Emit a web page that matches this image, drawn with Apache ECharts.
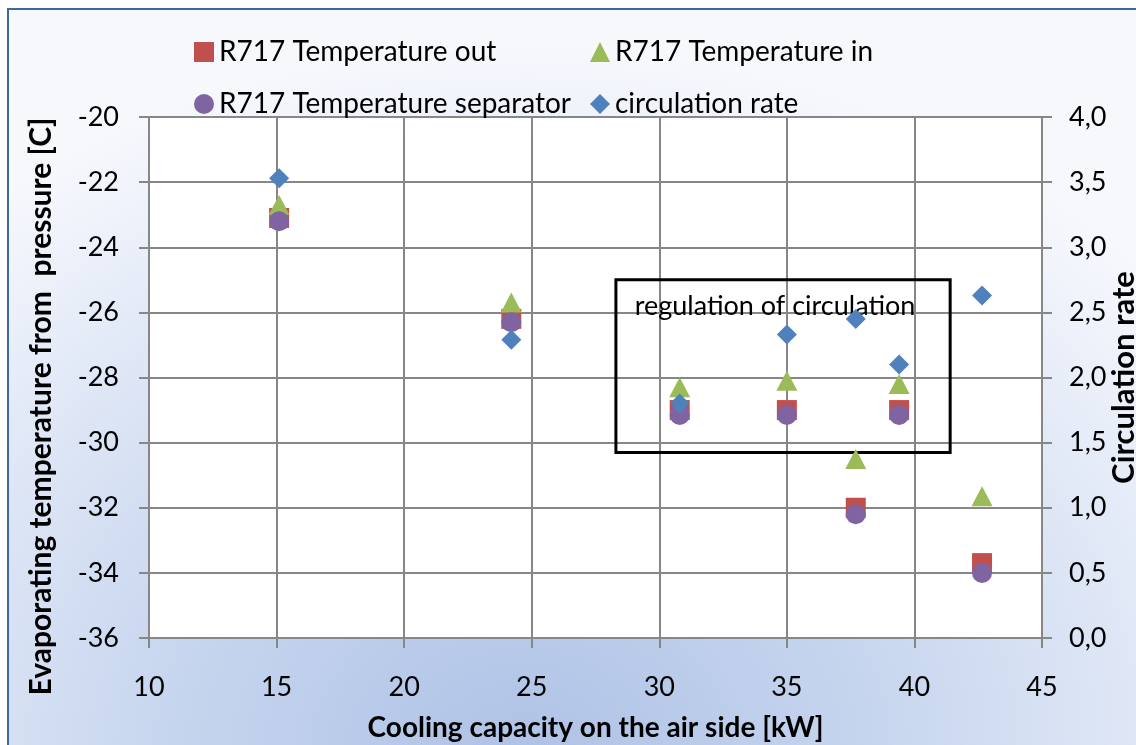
<!DOCTYPE html>
<html>
<head>
<meta charset="utf-8">
<script src="https://cdn.jsdelivr.net/npm/echarts@6/dist/echarts.min.js"></script>
<style>
  html, body { margin: 0; padding: 0; background: #ffffff; }
  #frame {
    position: absolute; left: 7px; top: 8px; width: 1140px; height: 750px;
    border-left: 2px solid #3f68a0; border-top: 2px solid #3f68a0;
    background: radial-gradient(ellipse 75% 95% at 45% 100%, #aec2e6 0%, #c9d7ef 45%, #e6ecf8 80%, #f6f8fc 100%);
  }
  #chart { position: absolute; left: 0; top: 0; width: 1136px; height: 745px; }
</style>
</head>
<body>
<div id="frame"></div>
<div id="chart"></div>
<script>
// cooling capacity on the air side [kW]
const capacity = [15.1, 24.2, 30.8, 35.0, 37.7, 39.4, 42.65]
// evaporating temperatures [C]
const tempOut = [-23.1, -26.2, -29.0, -29.0, -32.0, -29.0, -33.7]
const tempIn = [-22.7, -25.7, -28.3, -28.1, -30.5, -28.2, -31.65]
const tempSeparator = [-23.2, -26.3, -29.15, -29.15, -32.2, -29.15, -34.0]
// circulation rate (right axis)
const circulation = [3.53, 2.29, 1.80, 2.33, 2.45, 2.10, 2.63]

const boxCorners = [[28.3, -25.0], [41.4, -30.3]]
const boxLabel = 'regulation of circulation'

const pairs = ys => capacity.map((x, i) => [x, ys[i]])

const font = 'Lato'
const grey = '#878787'

const chart = echarts.init(document.getElementById('chart'))

const legendText = { fontFamily: font, fontSize: 28, color: '#000' }

const option = {
  animation: false,
  backgroundColor: 'transparent',
  legend: [
    {
      orient: 'vertical', left: 189, top: 33, itemGap: 24,
      itemWidth: 20, itemHeight: 20, textStyle: legendText,
      data: [{ name: 'R717 Temperature out', icon: 'rect' }, { name: 'R717 Temperature separator', icon: 'circle' }]
    },
    {
      orient: 'vertical', left: 585, top: 33, itemGap: 24,
      itemWidth: 20, itemHeight: 20, textStyle: legendText,
      data: [{ name: 'R717 Temperature in', icon: 'triangle' }, { name: 'circulation rate', icon: 'diamond' }]
    }
  ],
  grid: {
    left: 149, top: 117, right: 94, bottom: 107, outerBoundsMode: 'none',
    backgroundColor: '#ffffff', show: true, borderWidth: 0
  },
  xAxis: {
    type: 'value', min: 10, max: 45, interval: 5,
    name: 'Cooling capacity on the air side [kW]', nameLocation: 'middle', nameGap: 76,
    nameTextStyle: { fontFamily: font, fontSize: 28, fontWeight: 'bold', color: '#000' },
    axisLine: { lineStyle: { color: grey, width: 2 } },
    axisTick: { length: 10, lineStyle: { color: grey, width: 2 } },
    axisLabel: { fontFamily: font, fontSize: 27, color: '#000', margin: 36 },
    splitLine: { lineStyle: { color: grey, width: 2 } }
  },
  yAxis: [
    {
      type: 'value', min: -36, max: -20, interval: 2,
      name: 'Evaporating temperature from  pressure [C]', nameLocation: 'middle', nameGap: 93,
      nameTextStyle: { fontFamily: font, fontSize: 30, fontWeight: 'bold', color: '#000', padding: [0, 58, 0, 0] },
      axisLine: { show: true, lineStyle: { color: grey, width: 2 } },
      axisTick: { show: true, length: 10, lineStyle: { color: grey, width: 2 } },
      axisLabel: { fontFamily: font, fontSize: 27, color: '#000', margin: 30 },
      splitLine: { lineStyle: { color: grey, width: 2 } }
    },
    {
      type: 'value', min: 0, max: 4, interval: 0.5, position: 'right',
      name: 'Circulation rate', nameLocation: 'middle', nameGap: 66, nameRotate: 90,
      nameMoveOverlap: false,
      nameTextStyle: { fontFamily: font, fontSize: 31, fontWeight: 'bold', color: '#000' },
      axisLine: { show: true, lineStyle: { color: grey, width: 2 } },
      axisTick: { show: true, length: 10, lineStyle: { color: grey, width: 2 } },
      axisLabel: {
        fontFamily: font, fontSize: 27, color: '#000', margin: 27,
        formatter: v => v.toFixed(1).replace('.', ',')
      },
      splitLine: { show: false }
    }
  ],
  series: [
    {
      name: 'R717 Temperature out', type: 'scatter', yAxisIndex: 0,
      symbol: 'rect', symbolSize: 20, itemStyle: { color: '#c0504d', opacity: 1 },
      data: pairs(tempOut),
      markArea: {
        silent: true,
        itemStyle: { color: 'rgba(0,0,0,0)', borderColor: '#000', borderWidth: 3, opacity: 1 },
        label: {
          show: true, position: 'insideTop', distance: 14, offset: [-8, 0],
          fontFamily: font, fontSize: 27, color: '#000'
        },
        data: [[{ name: boxLabel, coord: boxCorners[0] }, { coord: boxCorners[1] }]]
      }
    },
    {
      name: 'R717 Temperature in', type: 'scatter', yAxisIndex: 0,
      symbol: 'triangle', symbolSize: [21, 20], itemStyle: { color: '#9bbb59', opacity: 1 },
      data: pairs(tempIn)
    },
    {
      name: 'R717 Temperature separator', type: 'scatter', yAxisIndex: 0,
      symbol: 'circle', symbolSize: 20, itemStyle: { color: '#8064a2', opacity: 1 },
      data: pairs(tempSeparator)
    },
    {
      name: 'circulation rate', type: 'scatter', yAxisIndex: 1,
      symbol: 'diamond', symbolSize: 20, itemStyle: { color: '#4f81bd', opacity: 1 },
      data: pairs(circulation)
    }
  ]
}

chart.setOption(option)
</script>
</body>
</html>
